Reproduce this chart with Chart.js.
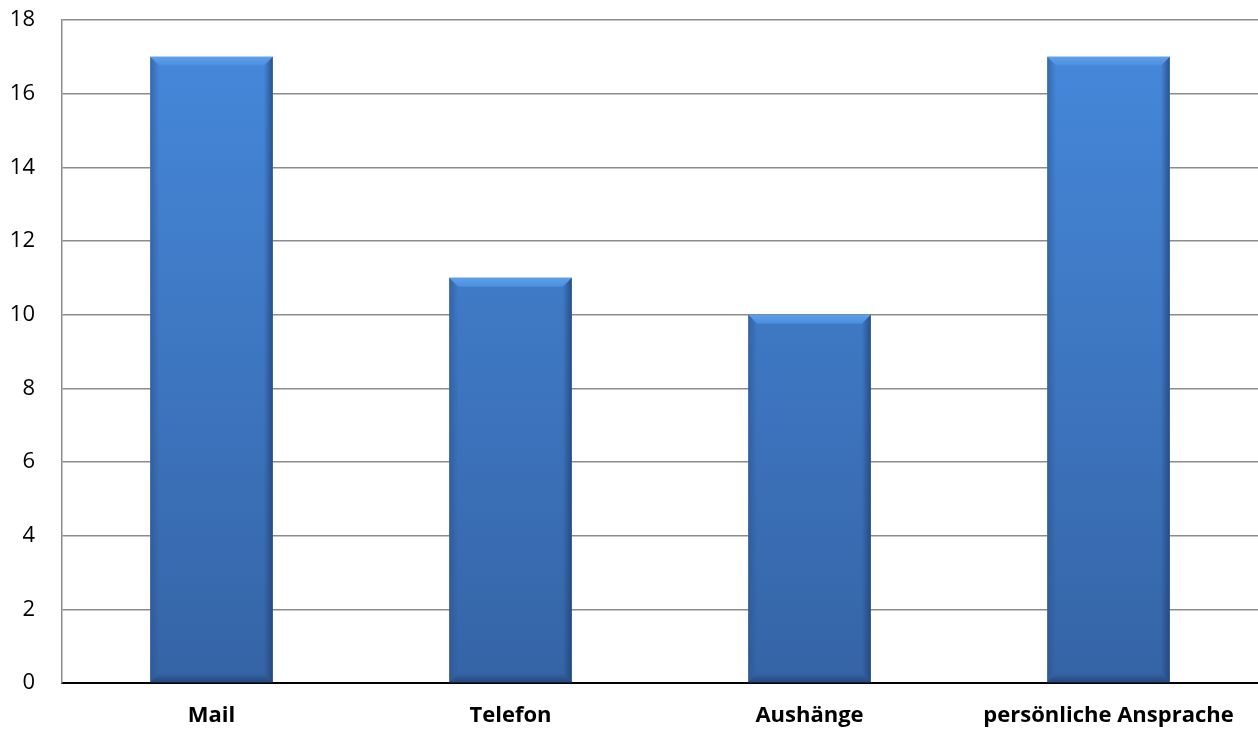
<!DOCTYPE html>
<html lang="de">
<head>
  <meta charset="UTF-8">
  <title>Kontaktwege</title>
  <script src="https://cdn.jsdelivr.net/npm/chart.js"></script>
  <style>
    html, body { margin: 0; padding: 0; background: #fff; }
    #wrap { width: 1258px; height: 731px; }
  </style>
</head>
<body>
<div id="wrap"><canvas id="barChart"></canvas></div>
<script>
const categories = ["Mail", "Telefon", "Aushänge", "persönliche Ansprache"];
const counts = [17, 11, 10, 17];
const yTicks = [0, 2, 4, 6, 8, 10, 12, 14, 16, 18];

// Verlauf wie in Excel: oben hell, unten dunkler
function barFill(context) {
  const chart = context.chart;
  const area = chart.chartArea;
  if (!area) return "#3f7dcc";
  const g = chart.ctx.createLinearGradient(0, area.top, 0, area.bottom);
  g.addColorStop(0, "#4689dc");
  g.addColorStop(1, "#3564a6");
  return g;
}

// Abgeschrägte Kanten der Säulen
const bevelPlugin = {
  id: "bevel",
  afterDatasetsDraw(chart) {
    const ctx = chart.ctx;
    const meta = chart.getDatasetMeta(0);
    const b = 9;
    meta.data.forEach(bar => {
      const l = bar.x - bar.width / 2, r = bar.x + bar.width / 2;
      const t = bar.y, bot = bar.base;
      ctx.save();
      // oben
      let g = ctx.createLinearGradient(0, t, 0, t + b);
      g.addColorStop(0, "#5fa0ea");
      g.addColorStop(1, "#4a8ee0");
      ctx.fillStyle = g;
      ctx.beginPath();
      ctx.moveTo(l, t); ctx.lineTo(r, t); ctx.lineTo(r - b, t + b); ctx.lineTo(l + b, t + b);
      ctx.closePath(); ctx.fill();
      // links
      g = ctx.createLinearGradient(l, 0, l + b, 0);
      g.addColorStop(0, "rgba(40,80,140,0.55)");
      g.addColorStop(1, "rgba(40,80,140,0)");
      ctx.fillStyle = g;
      ctx.beginPath();
      ctx.moveTo(l, t); ctx.lineTo(l + b, t + b); ctx.lineTo(l + b, bot - b); ctx.lineTo(l, bot);
      ctx.closePath(); ctx.fill();
      // rechts
      g = ctx.createLinearGradient(r, 0, r - b, 0);
      g.addColorStop(0, "rgba(30,60,110,0.7)");
      g.addColorStop(1, "rgba(30,60,110,0)");
      ctx.fillStyle = g;
      ctx.beginPath();
      ctx.moveTo(r, t); ctx.lineTo(r - b, t + b); ctx.lineTo(r - b, bot - b); ctx.lineTo(r, bot);
      ctx.closePath(); ctx.fill();
      // unten
      g = ctx.createLinearGradient(0, bot, 0, bot - b);
      g.addColorStop(0, "rgba(30,60,110,0.7)");
      g.addColorStop(1, "rgba(30,60,110,0)");
      ctx.fillStyle = g;
      ctx.beginPath();
      ctx.moveTo(l, bot); ctx.lineTo(r, bot); ctx.lineTo(r - b, bot - b); ctx.lineTo(l + b, bot - b);
      ctx.closePath(); ctx.fill();
      ctx.restore();
    });
  }
};

new Chart(document.getElementById("barChart"), {
  type: "bar",
  data: {
    labels: categories,
    datasets: [{
      data: counts,
      backgroundColor: barFill,
      borderWidth: 0,
      barPercentage: 0.41,
      categoryPercentage: 1
    }]
  },
  options: {
    responsive: true,
    maintainAspectRatio: false,
    animation: false,
    layout: { padding: { left: 0, right: 0, top: 20, bottom: 0 } },
    plugins: { legend: { display: false }, tooltip: { enabled: false } },
    scales: {
      x: {
        afterFit: axis => { axis.height = 48; },
        grid: { display: false, drawTicks: false },
        border: { color: "#000", width: 2 },
        ticks: {
          color: "#000",
          padding: 20,
          maxRotation: 0,
          font: { family: "'Open Sans', 'Liberation Sans', sans-serif", size: 22, weight: "bold" }
        }
      },
      y: {
        min: 0,
        max: 18,
        afterBuildTicks: axis => { axis.ticks = yTicks.map(v => ({ value: v })); },
        afterFit: axis => { axis.width = 62; axis.paddingTop = 12; },
        grid: { color: "#8c8c8c", lineWidth: 1.5, drawTicks: false },
        border: { color: "#8c8c8c", width: 1.5 },
        ticks: {
          color: "#000",
          padding: 27,
          font: { family: "'Open Sans', 'Liberation Sans', sans-serif", size: 22 }
        }
      }
    }
  },
  plugins: [bevelPlugin]
});
</script>
</body>
</html>
